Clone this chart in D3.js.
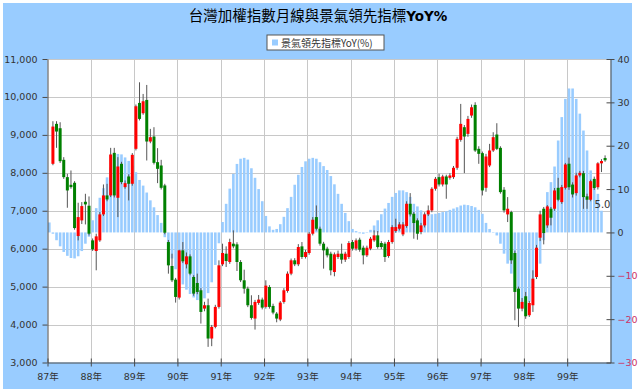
<!DOCTYPE html>
<html>
<head>
<meta charset="utf-8">
<script src="https://d3js.org/d3.v7.min.js"></script>
<style>
    body { margin: 0; background: #ffffff; }
    text { font-family: "DejaVu Sans", Verdana, "Noto Sans CJK TC", sans-serif; }
</style>
</head>
<body>
<div id="d3"></div>
<script>

// ROC years, 87 = 1998 ... 99 = 2010
const years = ["87", "88", "89", "90", "91", "92", "93", "94", "95", "96", "97", "98", "99"];
const monthNames = ["1", "2", "3", "4", "5", "6", "7", "8", "9", "10", "11", "12"];

// monthly candles start at 87/2
const candleStart = "87/2";
const open = [8237, 9290, 9175, 8342, 7886, 7684, 7737, 6333, 6746, 7237, 7132,
    6219, 5939, 6219, 6904, 7404, 7404, 8526, 7342, 8237, 7623, 7904, 7711,
    8632, 9842, 9570, 9921, 8825, 8956, 8281, 8193, 7667, 6175, 5544, 5184,
    4711, 5956, 5588, 5798, 5254, 5096, 4904, 4421, 4509, 3632, 3939, 4465,
    5588, 5868, 5649, 6132, 6114, 5649, 5167, 4947, 4509, 4158, 4570, 4658,
    4465, 4991, 4491, 4289, 4132, 4596, 4886, 5342, 5693, 5588, 6061, 5781,
    5886, 6395, 6833, 6526, 6132, 6000, 5868, 5386, 5781, 5868, 5711, 5781,
    6175, 6000, 6237, 6026, 5825, 6000, 6219, 6351, 6149, 6132, 5807, 6175,
    6465, 6526, 6377, 6596, 7184, 6921, 6746, 6439, 6614, 6904, 7009, 7579,
    7886, 7693, 7904, 7868, 7886, 8132, 8868, 9202, 9026, 9509, 9790, 8632,
    8518, 7605, 8193, 8588, 9009, 8658, 7553, 6904, 6965, 5886, 4947, 4421,
    4746, 4246, 4509, 5254, 6290, 7053, 6614, 7053, 7053, 7605, 7228, 7605,
    8240, 7690, 7465, 7930, 7990, 7380, 7290, 7840, 7620, 8250, 8390];
const high = [9360, 9360, 9333, 8412, 7974, 8061, 7780, 7211, 7228, 7447, 7377,
    6270, 6395, 6965, 7693, 7710, 8658, 8658, 8412, 8290, 7800, 7960, 8520,
    9800, 10386, 10079, 10316, 9158, 9202, 8650, 8342, 7710, 6230, 5868, 5230,
    5974, 6175, 5900, 5850, 5300, 5342, 4960, 4600, 4684, 3990, 4520, 5693,
    6132, 6061, 6263, 6483, 6170, 5700, 5447, 5000, 4772, 4650, 4780, 4710,
    5167, 5040, 4550, 4330, 4620, 4960, 5400, 5740, 5750, 6120, 6175, 5970,
    6440, 6833, 7140, 6580, 6180, 6050, 5920, 5900, 5950, 6132, 5920, 6200,
    6230, 6270, 6290, 6080, 6080, 6310, 6483, 6465, 6200, 6180, 6230, 6620,
    6790, 6700, 6700, 7250, 7465, 6970, 6800, 6680, 6960, 7140, 7620, 7890,
    7974, 7950, 7950, 7990, 8180, 8950, 9816, 9260, 9500, 9800, 9860, 8700,
    8560, 8500, 8763, 9070, 9307, 8700, 7623, 7360, 7000, 5950, 5000, 4700,
    4860, 4620, 5430, 6100, 7000, 7100, 7150, 7100, 7600, 7868, 7680, 8260,
    8400, 7750, 8000, 8050, 8050, 7450, 7820, 7900, 8280, 8360, 8460];
const low = [8200, 8658, 8260, 7840, 7079, 7580, 6500, 6219, 6650, 6640, 6350,
    5940, 5430, 6180, 6860, 7250, 7360, 7350, 6833, 7700, 7580, 7272, 7660,
    8590, 9380, 9530, 8325, 8780, 8220, 7728, 7560, 6380, 5342, 5120, 4579,
    4660, 5620, 5480, 5300, 4760, 4800, 4026, 4350, 3412, 3430, 3900, 4420,
    5540, 5518, 5600, 6010, 5412, 5120, 4816, 4460, 4130, 3868, 4520, 4400,
    4420, 4420, 4270, 4060, 4090, 4550, 4840, 5300, 5540, 5540, 5730, 5740,
    5840, 6350, 6480, 6080, 5474, 5770, 5298, 5272, 5730, 5605, 5650, 5730,
    5950, 5950, 5920, 5588, 5780, 5960, 6180, 6000, 5990, 5650, 5760, 6130,
    6420, 6480, 6330, 6550, 6850, 6263, 6237, 6380, 6560, 6860, 6960, 7530,
    7640, 7640, 7316, 7820, 7840, 8080, 8820, 7991, 8950, 9450, 8550, 8237,
    7403, 7500, 8150, 8550, 8600, 7450, 6950, 6702, 5600, 4114, 3939, 4350,
    4150, 4200, 4333, 5200, 6200, 6114, 6550, 6614, 7000, 7250, 7180, 7560,
    7550, 7350, 7400, 7880, 7050, 7050, 7250, 7550, 7560, 8020, 8290];
const close = [9219, 9088, 8307, 7886, 7535, 7623, 6544, 6833, 7123, 7167, 6395,
    5982, 6325, 6904, 7404, 7298, 8483, 7404, 8167, 7754, 7728, 7711, 8474,
    9754, 9421, 9886, 8825, 8939, 8263, 8105, 7605, 6421, 5561, 5167, 4728,
    5956, 5667, 5798, 5342, 4816, 4860, 4333, 4509, 3632, 3939, 4465, 5561,
    5886, 5675, 6175, 6061, 5649, 5167, 4947, 4509, 4175, 4596, 4658, 4447,
    5026, 4465, 4316, 4158, 4579, 4904, 5342, 5693, 5588, 6044, 5781, 5912,
    6395, 6763, 6526, 6132, 5956, 5825, 5430, 5851, 5868, 5711, 5868, 6149,
    6000, 6219, 5974, 5825, 6026, 6263, 6351, 6044, 6044, 5781, 6175, 6570,
    6570, 6640, 6640, 7184, 6904, 6676, 6395, 6614, 6904, 7009, 7579, 7842,
    7693, 7904, 7693, 7930, 8132, 8895, 9290, 8956, 9421, 9728, 8588, 8500,
    7535, 8430, 8588, 8939, 8632, 7491, 7009, 7053, 5693, 4860, 4421, 4597,
    4219, 4570, 5210, 6026, 6904, 6412, 7114, 6816, 7535, 7290, 7623, 8220,
    7620, 7430, 7930, 8000, 7360, 7290, 7780, 7600, 8250, 8310, 8330];

// leading indicator YoY (%) starts at 87/1
const yoyStart = "87/1";
const yoy = [2.3, -0.3, -1.8, -3.2, -4.5, -5.4, -5.9, -6.0, -5.5, -4.3, -2.6, -1.0,
    2.8, 5.6, 8.0, 10.2, 12.7, 15.0, 16.7, 18.1, 18.0, 17.3, 16.5, 15.4,
    13.9, 12.1, 10.8, 9.2, 7.4, 5.8, 4.0, 2.2, -1.1, -3.5, -6.0, -8.5,
    -10.5, -12.0, -13.2, -14.2, -15.0, -15.6, -15.8, -15.2, -14.0, -11.5, -7.5, -2.5,
    2.4, 6.6, 10.1, 13.5, 15.8, 17.0, 17.2, 16.8, 14.8, 12.6, 10.0, 7.2,
    3.8, 1.4, 0.6, 0.8, 1.9, 3.6, 5.6, 8.2, 11.0, 13.3, 15.1, 16.4,
    17.0, 17.2, 17.0, 16.2, 15.3, 14.4, 13.0, 11.1, 8.9, 6.6, 4.5, 2.6,
    0.8, 0.3, -0.2, -0.3, 0.1, 0.6, 1.6, 2.8, 4.2, 5.5, 6.8, 8.2,
    9.1, 9.7, 9.7, 9.3, 8.2, 6.6, 6.0, 5.1, 4.3, 4.2, 4.2, 4.3,
    4.5, 4.7, 4.9, 5.2, 5.5, 5.8, 6.2, 6.4, 6.3, 6.1, 5.8, 5.2,
    4.3, 2.2, 0.8, 0.1, -0.7, -2.6, -4.9, -7.2, -9.5, -13.0, -15.7, -17.6,
    -18.5, -16.0, -12.6, -9.5, -7.2, -1.8, 9.3, 11.6, 15.2, 21.2, 26.6, 30.8,
    33.2, 33.2, 30.8, 27.4, 23.5, 18.9, 14.3, 12.0, 8.9, 5.0];

const leftTicks = [3000, 4000, 5000, 6000, 7000, 8000, 9000, 10000, 11000];
const rightTicks = [-30, -20, -10, 0, 10, 20, 30, 40];

const titleText = "台灣加權指數月線與景氣領先指標";
const titleBold = "YoY%";
const legendText = "景氣領先指標YoY(%)";


function drawChart() {
    const months = [];
    years.forEach(y => monthNames.forEach(m => months.push(y + "/" + m)));

    const plot = { left: 47.5, right: 610.5, top: 59, bottom: 362.5 };

    const svg = d3
        .select("#d3")
        .append("svg")
        .attr("width", 640)
        .attr("height", 392);

    // chart area background
    svg.append("rect")
        .attr("x", 3)
        .attr("y", 3)
        .attr("width", 629)
        .attr("height", 386)
        .style("fill", "#99ccff");

    svg.append("rect")
        .attr("x", plot.left)
        .attr("y", plot.top)
        .attr("width", plot.right - plot.left)
        .attr("height", plot.bottom - plot.top)
        .style("fill", "#ffffff");

    const x = d3.scaleBand().domain(months).range([plot.left, plot.right]);
    const xTime = d3.scaleLinear().domain([0, months.length]).range([plot.left, plot.right]);
    const yLeft = d3.scaleLinear().domain([3000, 11000]).range([plot.bottom, plot.top]);
    const yRight = d3.scaleLinear().domain([-30, 40]).range([plot.bottom, plot.top]);
    const bw = x.bandwidth();

    // grid
    svg.append("g")
        .selectAll("line")
        .data(leftTicks.slice(1))
        .join("line")
        .attr("x1", plot.left)
        .attr("x2", plot.right)
        .attr("y1", d => Math.round(yLeft(d)) + 0.5)
        .attr("y2", d => Math.round(yLeft(d)) + 0.5)
        .style("stroke", "#c8c8c8");

    svg.append("g")
        .selectAll("line")
        .data(years.slice(1))
        .join("line")
        .attr("x1", d => Math.round(x(d + "/1")) + 0.5)
        .attr("x2", d => Math.round(x(d + "/1")) + 0.5)
        .attr("y1", plot.top)
        .attr("y2", plot.bottom)
        .style("stroke", "#c8c8c8");

    // YoY bars
    const i0 = months.indexOf(yoyStart);
    const barW = 2.6;
    svg.append("g")
        .selectAll("rect")
        .data(yoy)
        .join("rect")
        .attr("x", (d, i) => x(months[i0 + i]) + (bw - barW) / 2)
        .attr("y", d => yRight(Math.max(0, d)))
        .attr("width", barW)
        .attr("height", d => Math.abs(yRight(d) - yRight(0)))
        .style("fill", "#99ccff");

    // candles
    const c0 = months.indexOf(candleStart);
    const candles = open.map((o, i) => ({
        m: months[c0 + i], o: o, h: high[i], l: low[i], c: close[i]
    }));

    const cg = svg.append("g");
    cg.selectAll("line")
        .data(candles)
        .join("line")
        .attr("x1", d => x(d.m) + bw / 2)
        .attr("x2", d => x(d.m) + bw / 2)
        .attr("y1", d => yLeft(d.h))
        .attr("y2", d => yLeft(d.l))
        .style("stroke", "#555555")
        .style("stroke-width", 1);

    cg.selectAll("rect")
        .data(candles)
        .join("rect")
        .attr("x", d => x(d.m) + bw / 2 - 1.5)
        .attr("y", d => yLeft(Math.max(d.o, d.c)))
        .attr("width", 3)
        .attr("height", d => Math.max(1, Math.abs(yLeft(d.o) - yLeft(d.c))))
        .style("fill", d => d.c >= d.o ? "#ff0000" : "#008000");

    // value label on the last bar
    const lastIdx = yoy.length - 1;
    svg.append("text")
        .attr("x", x(months[i0 + lastIdx]) + bw / 2 + 1)
        .attr("y", yRight(yoy[lastIdx]) - 3)
        .attr("text-anchor", "middle")
        .style("font-size", "10px")
        .style("fill", "#333333")
        .text(yoy[lastIdx].toFixed(1));

    // axes
    const axisColor = "#4a4a4a";

    const leftAxis = svg.append("g")
        .attr("transform", `translate(${plot.left},0)`)
        .call(d3.axisLeft(yLeft)
            .tickValues(leftTicks)
            .tickFormat(d3.format(","))
            .tickSize(5)
            .tickSizeOuter(0)
            .tickPadding(5));

    const rightAxis = svg.append("g")
        .attr("transform", `translate(${plot.right},0)`)
        .call(d3.axisRight(yRight)
            .tickValues(rightTicks)
            .tickSize(4)
            .tickSizeOuter(0)
            .tickPadding(3));
    rightAxis.selectAll(".tick line").attr("x1", -4);
    rightAxis.selectAll(".tick text")
        .style("fill", d => d < 0 ? "#cc3366" : "#333333");

    const bottomAxis = svg.append("g")
        .attr("transform", `translate(0,${plot.bottom})`)
        .call(d3.axisBottom(xTime)
            .tickValues(years.map((y, i) => i * 12))
            .tickFormat(d => years[d / 12] + "年")
            .tickSize(4)
            .tickSizeOuter(0)
            .tickPadding(7));
    bottomAxis.selectAll(".tick line").attr("y1", -4);

    [leftAxis, rightAxis, bottomAxis].forEach(g => {
        g.select(".domain").style("stroke", axisColor);
        g.selectAll(".tick line").style("stroke", axisColor);
        g.selectAll(".tick text")
            .style("font-size", "9.5px")
            .style("font-family", "\"DejaVu Sans\", \"Noto Sans CJK TC\", sans-serif");
    });
    leftAxis.selectAll(".tick text").style("fill", "#333333");
    bottomAxis.selectAll(".tick text").style("fill", "#333333");

    // title
    const title = svg.append("text")
        .attr("x", 318)
        .attr("y", 21)
        .attr("text-anchor", "middle")
        .style("fill", "#000000");
    title.append("tspan")
        .style("font-family", "\"Noto Sans CJK TC\", sans-serif")
        .style("font-size", "14.5px")
        .text(titleText);
    title.append("tspan")
        .style("font-family", "\"DejaVu Sans\", sans-serif")
        .style("font-weight", "bold")
        .style("font-size", "13.5px")
        .text(titleBold);

    // legend
    const legend = svg.append("g").attr("transform", "translate(267,35)");
    legend.append("rect")
        .attr("width", 117)
        .attr("height", 15)
        .style("fill", "#ffffff")
        .style("stroke", "#555555")
        .style("stroke-width", 1);
    legend.append("rect")
        .attr("x", 5)
        .attr("y", 4.5)
        .attr("width", 6)
        .attr("height", 6)
        .style("fill", "#99ccff");
    legend.append("text")
        .attr("x", 14)
        .attr("y", 11.5)
        .style("font-family", "\"Noto Sans CJK TC\", sans-serif")
        .style("font-size", "10px")
        .style("fill", "#333333")
        .text(legendText);
}

drawChart();
</script>
</body>
</html>
